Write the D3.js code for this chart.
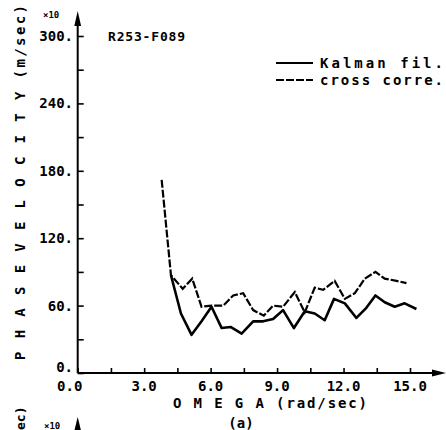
<!DOCTYPE html>
<html>
<head>
<meta charset="utf-8">
<script src="https://cdn.jsdelivr.net/npm/d3@7"></script>
<style>
  body { margin: 0; background: #fff; }
  svg text { font-family: "DejaVu Sans Mono", monospace; font-weight: bold; fill: #000; }
</style>
</head>
<body>
<svg id="chart" width="446" height="430"></svg>
<script>
// values (v is in units of x10 m/sec)
var omegaKalman = [4.21, 4.66, 5.14, 5.59, 6.04, 6.5, 6.9, 7.4, 7.92, 8.37, 8.82, 9.27, 9.76, 10.25, 10.7, 11.15, 11.57, 12.06, 12.58, 13.03, 13.44, 13.86, 14.31, 14.76, 15.29];
var velKalman   = [87, 53, 34, 46, 59, 40, 41, 35, 46, 46, 48, 56, 40, 55, 53, 47, 66, 62, 49, 58, 69, 63, 59, 62, 57];
var omegaCross  = [3.79, 4.21, 4.74, 5.17, 5.59, 6.04, 6.57, 7.02, 7.47, 7.92, 8.40, 8.82, 9.27, 9.80, 10.25, 10.70, 11.08, 11.60, 12.06, 12.51, 12.96, 13.44, 13.86, 14.39, 14.84];
var velCross    = [172, 87, 75, 84, 59, 60, 60, 69, 71, 56, 51, 60, 59, 72, 54, 76, 74, 82, 66, 71, 84, 90, 84, 82, 80];
var xTicks = [0, 3, 6, 9, 12, 15];
var yTicks = [0, 60, 120, 180, 240, 300];
var seriesNames = ["Kalman fil.", "cross corre."];

var svg = d3.select("#chart");
var x = d3.scaleLinear().domain([0, 15]).range([77.7, 410]);
var y = d3.scaleLinear().domain([0, 300]).range([373, 36]);

// axes: major labelled ticks + minor ticks in between
var xAxis = d3.axisBottom(x).tickValues(d3.range(0, 16.5, 1.5)).tickSize(-5).tickFormat("");
var yAxis = d3.axisLeft(y).tickValues(d3.range(0, 301, 30)).tickSize(-6).tickFormat("");

var gx = svg.append("g").attr("transform", "translate(0,373)").call(xAxis);
gx.select(".domain").remove();
gx.selectAll("line").attr("stroke", "#000").attr("stroke-width", 1.6);
var gy = svg.append("g").attr("transform", "translate(77.7,0)").call(yAxis);
gy.select(".domain").remove();
gy.selectAll("line").attr("stroke", "#000").attr("stroke-width", 1.6);

// axis lines with arrows
svg.append("line").attr("x1", x(0)).attr("x2", 436).attr("y1", 373).attr("y2", 373)
  .attr("stroke", "#000").attr("stroke-width", 2.2);
svg.append("path").attr("d", "M446,373 L432,369.5 L432,376.5 Z").attr("fill", "#000");
svg.append("line").attr("x1", 77.7).attr("x2", 77.7).attr("y1", 373).attr("y2", 20)
  .attr("stroke", "#000").attr("stroke-width", 2);
svg.append("path").attr("d", "M77.7,11 L74.3,26 L81.1,26 Z").attr("fill", "#000");

svg.selectAll(".xlab").data(xTicks).enter().append("text")
  .attr("x", function(d) { return x(d) - (d === 0 ? 8 : 0); })
  .attr("y", 391).attr("text-anchor", "middle").attr("font-size", 14)
  .text(function(d) { return d3.format(".1f")(d); });
// the "0." label sits above the x axis line in the original
svg.selectAll(".ylab").data(yTicks).enter().append("text")
  .attr("x", 73).attr("y", function(d) { return d === 0 ? y(d) - 1 : y(d) + 5; })
  .attr("text-anchor", "end").attr("font-size", 14)
  .text(function(d) { return d + "."; });

svg.append("text").attr("x", 43).attr("y", 18).attr("font-size", 9).text("\u00d710");

svg.append("text").attr("x", 173).attr("y", 408).attr("font-size", 14)
  .attr("textLength", 194).attr("lengthAdjust", "spacing").text("O M E G A (rad/sec)");
svg.append("text").attr("x", 241).attr("y", 428).attr("font-size", 14)
  .attr("text-anchor", "middle").text("(a)");
svg.append("text").attr("transform", "translate(25,360) rotate(-90)").attr("font-size", 14)
  .attr("textLength", 355).attr("lengthAdjust", "spacing")
  .text("P H A S E   V E L O C I T Y  (m/sec)");

svg.append("text").attr("x", 108).attr("y", 41).attr("font-size", 13)
  .attr("textLength", 77).attr("lengthAdjust", "spacing").text("R253-F089");

// lines
var line = d3.line().x(function(d) { return x(d[0]); }).y(function(d) { return y(d[1]); });
svg.append("path").datum(d3.zip(omegaKalman, velKalman)).attr("d", line)
  .attr("fill", "none").attr("stroke", "#000").attr("stroke-width", 2.6)
  .attr("stroke-linejoin", "round");
svg.append("path").datum(d3.zip(omegaCross, velCross)).attr("d", line)
  .attr("fill", "none").attr("stroke", "#000").attr("stroke-width", 2.2)
  .attr("stroke-dasharray", "8,2");

// legend
var leg = svg.append("g");
seriesNames.forEach(function(name, i) {
  var ly = 63 + i * 17;
  leg.append("line").attr("x1", 276).attr("x2", 313).attr("y1", ly).attr("y2", ly)
    .attr("stroke", "#000").attr("stroke-width", 2.2)
    .attr("stroke-dasharray", i === 1 ? "8,2" : null);
  leg.append("text").attr("x", 320).attr("y", ly + 5).attr("font-size", 14)
    .attr("textLength", 123).attr("lengthAdjust", "spacing").text(name);
});

// top of the next panel, cut off by the page edge
svg.append("path").attr("d", "M77.7,417 L74.5,430 L80.9,430 Z").attr("fill", "#000");
svg.append("text").attr("x", 44).attr("y", 429).attr("font-size", 9).text("\u00d710");
svg.append("text").attr("transform", "translate(25,430) rotate(-90)").attr("font-size", 13)
  .text("ec)");
</script>
</body>
</html>
